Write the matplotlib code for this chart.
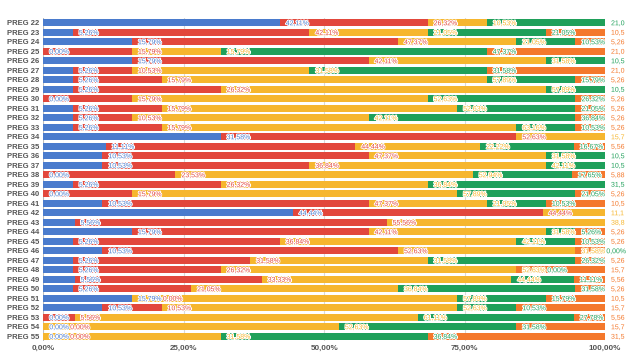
import matplotlib.pyplot as plt
import matplotlib.patheffects as pe

# Preguntas y porcentajes por categoría de respuesta
preguntas = ['PREG 22', 'PREG 23', 'PREG 24', 'PREG 25', 'PREG 26', 'PREG 27', 'PREG 28',
             'PREG 29', 'PREG 30', 'PREG 31', 'PREG 32', 'PREG 33', 'PREG 34', 'PREG 35',
             'PREG 36', 'PREG 37', 'PREG 38', 'PREG 39', 'PREG 40', 'PREG 41', 'PREG 42',
             'PREG 43', 'PREG 44', 'PREG 45', 'PREG 46', 'PREG 47', 'PREG 48', 'PREG 49',
             'PREG 50', 'PREG 51', 'PREG 52', 'PREG 53', 'PREG 54', 'PREG 55']
azul = [42.11, 5.26, 15.79, 0.00, 15.79, 5.26, 5.26, 5.26, 0.00, 5.26, 5.26, 5.26, 31.58, 11.11,
        10.53, 10.53, 0.00, 5.26, 0.00, 10.53, 44.44, 5.56, 15.79, 5.26, 10.53, 5.26, 5.26, 5.56,
        5.26, 15.79, 10.53, 0.00, 0.00, 0.00]
rojo = [26.32, 42.11, 47.37, 15.79, 42.11, 10.53, 15.79, 26.32, 15.79, 15.79, 10.53, 15.79, 52.63,
        44.44, 47.37, 36.84, 23.53, 26.32, 15.79, 47.37, 44.44, 55.56, 42.11, 36.84, 52.63, 31.58,
        26.32, 33.33, 21.05, 0.00, 10.53, 5.56, 0.00, 0.00]
amarillo = [10.53, 21.05, 21.05, 15.79, 31.58, 31.58, 57.89, 57.89, 52.63, 52.63, 42.11, 63.16,
            15.79, 22.22, 31.58, 42.11, 52.94, 36.84, 57.89, 21.05, 11.11, 38.89, 31.58, 42.11,
            31.58, 31.58, 52.63, 44.44, 36.84, 57.89, 52.63, 61.11, 52.63, 31.58]
verde = [21.05, 21.05, 10.53, 47.37, 10.53, 31.58, 15.79, 10.53, 26.32, 21.05, 36.84, 10.53, 0.00,
         16.67, 10.53, 10.53, 17.65, 31.58, 21.05, 10.53, 0.00, 0.00, 5.26, 10.53, 0.00, 26.32,
         0.00, 11.11, 31.58, 15.79, 10.53, 27.78, 31.58, 36.84]
naranja = [0.00, 10.53, 5.26, 21.05, 0.00, 21.05, 5.26, 0.00, 5.26, 5.26, 5.26, 5.26, 0.00, 5.56,
           0.00, 0.00, 5.88, 0.00, 5.26, 10.53, 0.00, 0.00, 5.26, 5.26, 5.26, 5.26, 15.79, 5.56,
           5.26, 10.53, 15.79, 5.56, 15.79, 31.58]

series = [azul, rojo, amarillo, verde, naranja]
colores = ['#4a7bcd', '#e2473c', '#f6b62e', '#1fa05a', '#f4782c']

fig = plt.figure(figsize=(6.4, 3.63), dpi=100)
ax = fig.add_axes([43.3 / 640, 22 / 363, (605 - 43.3) / 640, (345 - 22) / 363])

y = list(range(len(preguntas)))
for x in [0, 25, 50, 75, 100]:
    ax.axvline(x, color='#bdbdbd' if x == 0 else '#d9d9d9', lw=0.8, zorder=0)

izq = [0.0] * len(preguntas)
for vals, c in zip(series, colores):
    ax.barh(y, vals, left=izq, height=0.7, color=c, zorder=2)
    izq = [a + b for a, b in zip(izq, vals)]

ax.set_xlim(0, 100)
ax.set_ylim(len(preguntas) - 0.5, -0.5)
ax.set_yticks(y)
ax.set_yticklabels(preguntas, fontsize=5.5, fontweight='bold', color='#555555',
                   family='Liberation Sans')
ax.set_xticks([0, 25, 50, 75, 100])
ax.set_xticklabels(['0,00%', '25,00%', '50,00%', '75,00%', '100,00%'], fontsize=5.8,
                   fontweight='bold', color='#555555', family='Liberation Sans')
ax.tick_params(length=0, pad=3)
for s in ax.spines.values():
    s.set_visible(False)

# etiquetas al final de cada segmento, corridas a la derecha si se solapan;
# las que no caben a la derecha se recortan como en el original
fig.canvas.draw()
rend = fig.canvas.get_renderer()
W, H = fig.bbox.width, fig.bbox.height
limite = 627
for i in y:
    acum = 0.0
    borde = -1e9
    for vals, c in zip(series, colores):
        acum += vals[i]
        px, py = ax.transData.transform((acum, i))
        px = max(px + 6, borde)
        if px > limite - 6:
            break
        txt = f'{vals[i]:.2f}%'.replace('.', ',')
        t = fig.text(px / W, py / H, txt, fontsize=5, color=c, ha='left',
                     va='center_baseline', family='Liberation Sans', zorder=5,
                     path_effects=[pe.withStroke(linewidth=1.3, foreground='white')])
        ancho = t.get_window_extent(rend).width
        while px + ancho > limite and len(txt) > 1:
            txt = txt[:-1]
            t.set_text(txt)
            ancho = t.get_window_extent(rend).width
        borde = px + ancho + 1

fig.savefig('out.png', dpi=100)
